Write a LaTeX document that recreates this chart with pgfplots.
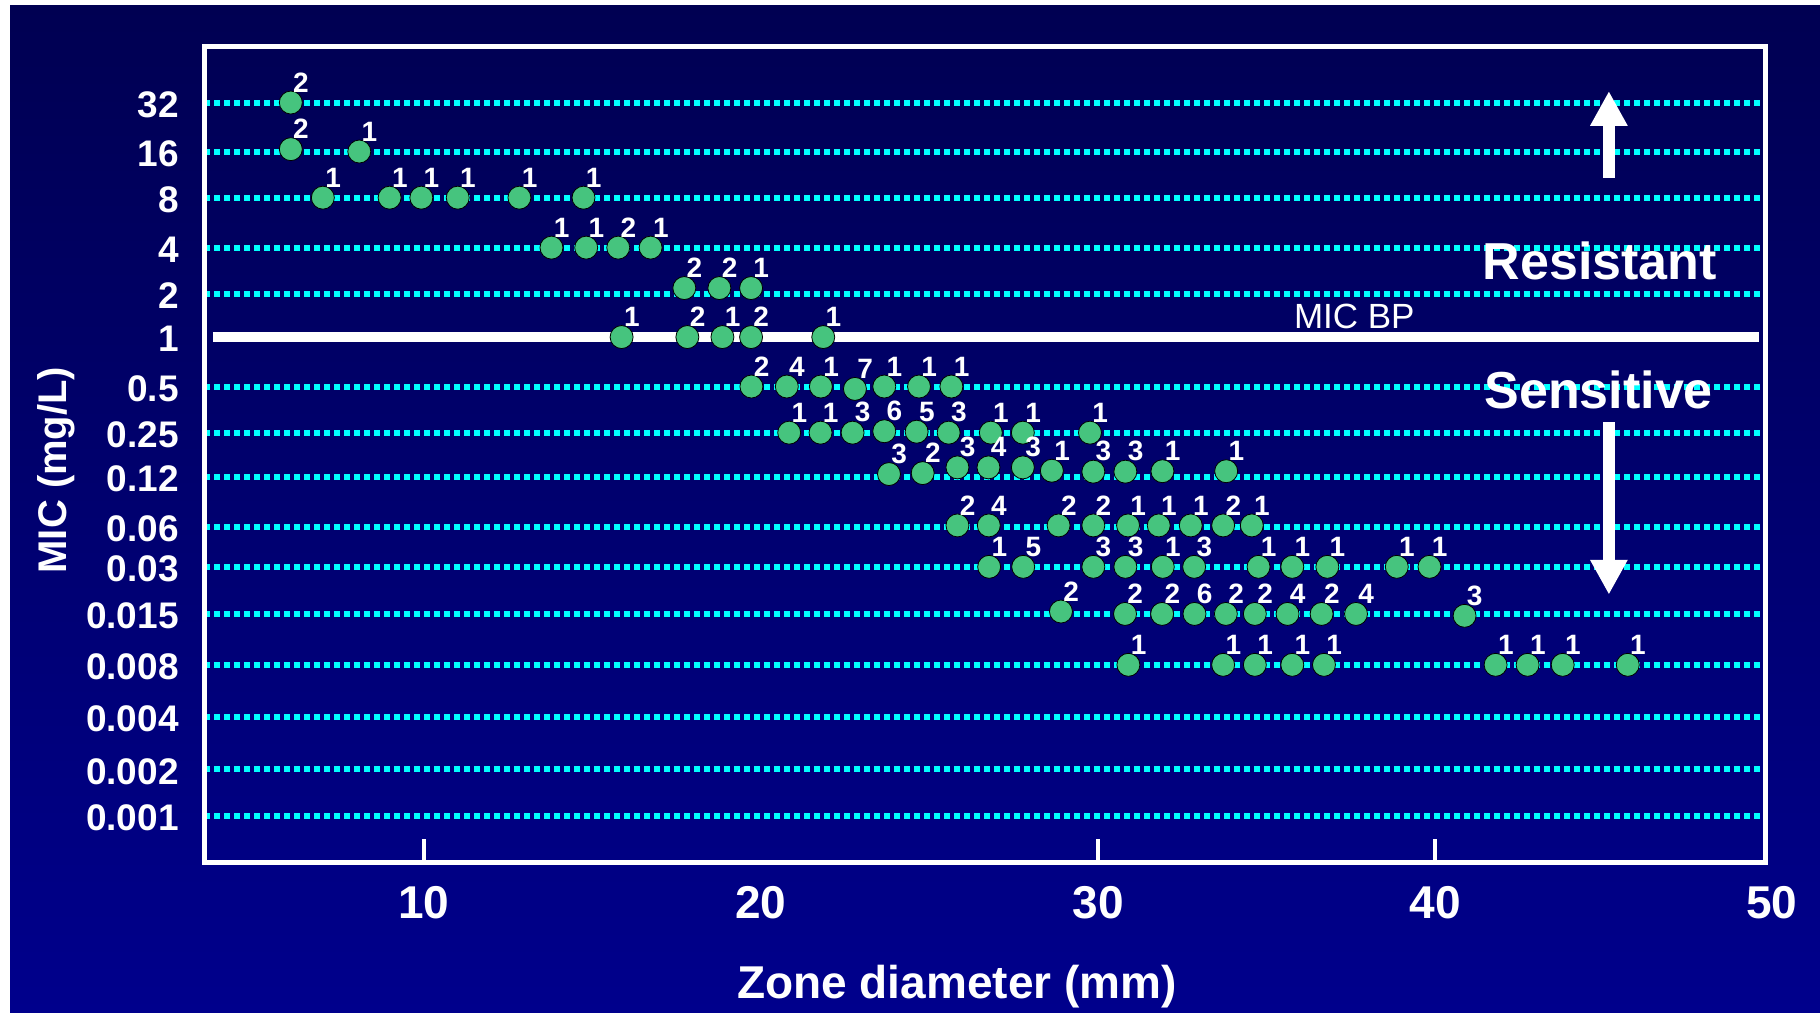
\documentclass[border=0pt]{standalone}
\usepackage{fontspec}
\setmainfont{Liberation Sans}
\usepackage{pgfplots}
\pgfplotsset{compat=1.18}
\usetikzlibrary{arrows.meta}

\definecolor{navytop}{RGB}{0,0,82}
\definecolor{navymid}{RGB}{0,0,112}
\definecolor{navybot}{RGB}{0,0,140}
\definecolor{dotgreen}{RGB}{70,196,126}
\definecolor{gridcyan}{RGB}{0,255,255}

\newcommand\countfont{\fontsize{14pt}{16pt}\selectfont\bfseries}
\newcommand\ytickfont{\fontsize{18.5pt}{20pt}\selectfont\bfseries}
\newcommand\xtickfont{\fontsize{23pt}{26pt}\selectfont\bfseries}
\newcommand\labelfont{\fontsize{23pt}{26pt}\selectfont\bfseries}
\newcommand\ylabfont{\fontsize{20pt}{24pt}\selectfont\bfseries}
\newcommand\bigfont{\fontsize{26pt}{30pt}\selectfont\bfseries}
\newcommand\bpfont{\fontsize{17.5pt}{20pt}\selectfont}

\begin{document}
\begin{tikzpicture}
% slide background
\fill[white] (0pt,0pt) rectangle (910pt,506pt);
\shade[top color=navytop, middle color=navymid, bottom color=navybot] (5pt,0pt) rectangle (910pt,503pt);

\begin{axis}[
  at={(102pt,75pt)}, anchor=south west,
  scale only axis, width=780.5pt, height=407.8pt,
  xmin=3.485, xmax=49.78, ymin=-0.965, ymax=16.18,
  clip=false,
  axis line style={white, line width=2.5pt},
  tick pos=left, tick align=inside,
  major tick length=11.5pt,
  x tick style={white, line width=2pt},
  y tick style={draw=none},
  xtick={10,30,40}, xticklabels={10,30,40},
  extra x ticks={20}, extra x tick labels={20},
  extra x tick style={major tick length=0pt},
  xticklabel style={font=\xtickfont, text=white, anchor=center, inner sep=0pt, yshift=-20.5pt},
  % MIC dilution levels on a rank scale (0.001 at the bottom, 32 at the top)
  ytick={0,0.98,2.08,3.18,4.25,5.24,6.08,7.13,8.06,9.03,10.98,11.95,13.00,13.97,15.00},
  yticklabels={0.001,0.002,0.004,0.008,0.015,0.03,0.06,0.12,0.25,0.5,2,4,8,16,32},
  extra y ticks={10.07}, extra y tick labels={1},
  extra y tick style={grid=none},
  yticklabel style={font=\ytickfont, text=white, anchor=east, inner sep=0pt, xshift=-12.5pt, yshift=-1pt},
  ymajorgrids=true,
  major grid style={gridcyan, line width=3pt, dash pattern=on 3pt off 2pt},
  xlabel={Zone diameter (mm)},
  ylabel={MIC (mg/L)},
  every axis x label/.style={at={(axis description cs:0.4824,-0.1671)}, anchor=base, font=\labelfont, text=white},
  every axis y label/.style={at={(axis description cs:-0.0948,0.4806)}, anchor=center, rotate=90, font=\ylabfont, text=white},
  /pgf/number format/assume math mode=true,
]

% breakpoint
\draw[white, line width=5pt] (axis cs:3.75,10.07) -- (axis cs:49.60,10.07);
\node[anchor=base west, inner sep=0pt, font=\bpfont, text=white] at (axis cs:35.80,10.247) {MIC BP};

% resistant / sensitive arrows
\draw[white, line width=6pt, -{Triangle[width=17.5pt,length=17.35pt]}] (axis cs:45.15,13.42) -- (axis cs:45.15,15.24);
\draw[white, line width=6pt, -{Triangle[width=17.5pt,length=17.35pt]}] (axis cs:45.15,8.284) -- (axis cs:45.15,4.656);
\node[anchor=base west, inner sep=0pt, font=\bigfont, text=white] at (axis cs:41.40,11.278) {Resistant};
\node[anchor=base west, inner sep=0pt, font=\bigfont, text=white] at (axis cs:41.45,8.578) {Sensitive};

\node[font=\xtickfont, text=white, anchor=center, inner sep=0pt, yshift=-20.5pt] at (axis cs:49.98,-0.965) {50};

% isolates: zone diameter, MIC level, number of isolates
\addplot[only marks, mark=*, mark size=5.75pt,
  mark options={draw=none, fill=dotgreen},
  point meta=explicit symbolic,
  nodes near coords,
  nodes near coords style={anchor=south west, inner sep=0pt, xshift=1pt, yshift=5pt, font=\countfont, text=white}]
coordinates {
  % 32
  (6.06,15.00) [2]
  % 16
  (6.06,14.02) [2] (8.09,13.97) [1]
  % 8
  (7.01,13.00) [1] (8.99,13.00) [1] (9.93,13.00) [1] (11.01,13.00) [1] (12.84,13.00) [1] (14.74,13.00) [1]
  % 4
  (13.79,11.95) [1] (14.82,11.95) [1] (15.77,11.95) [2] (16.73,11.95) [1]
  % 2
  (17.73,11.10) [2] (18.77,11.10) [2] (19.71,11.10) [1]
  % 1
  (15.87,10.07) [1] (17.82,10.07) [2] (18.86,10.07) [1] (19.71,10.07) [2] (21.85,10.07) [1]
  % 0.5
  (19.72,9.03) [2] (20.77,9.03) [4] (21.78,9.03) [1] (22.79,8.98) [7] (23.66,9.03) [1] (24.69,9.03) [1] (25.65,9.03) [1]
  % 0.25
  (20.84,8.06) [1] (21.77,8.06) [1] (22.72,8.06) [3] (23.66,8.09) [6] (24.62,8.08) [5] (25.57,8.06) [3] (26.82,8.06) [1] (27.77,8.06) [1] (29.76,8.06) [1]
  % 0.12
  (23.80,7.19) [3] (24.80,7.21) [2] (25.83,7.33) [3] (26.75,7.33) [4] (27.77,7.33) [3] (28.63,7.26) [1] (29.86,7.24) [3] (30.81,7.24) [3] (31.91,7.25) [1] (33.80,7.25) [1]
  % 0.06
  (25.83,6.11) [2] (26.76,6.11) [4] (28.83,6.11) [2] (29.86,6.11) [2] (30.89,6.11) [1] (31.80,6.11) [1] (32.75,6.11) [1] (33.71,6.11) [2] (34.56,6.11) [1]
  % 0.03
  (26.77,5.24) [1] (27.78,5.24) [5] (29.86,5.24) [3] (30.81,5.24) [3] (31.92,5.24) [1] (32.85,5.24) [3] (34.76,5.24) [1] (35.76,5.24) [1] (36.80,5.24) [1] (38.86,5.24) [1] (39.83,5.24) [1]
  % 0.015
  (28.90,4.30) [2] (30.80,4.25) [2] (31.90,4.25) [2] (32.86,4.25) [6] (33.79,4.25) [2] (34.65,4.25) [2] (35.62,4.25) [4] (36.63,4.25) [2] (37.65,4.25) [4] (40.87,4.21) [3]
  % 0.008
  (30.90,3.18) [1] (33.71,3.18) [1] (34.65,3.18) [1] (35.76,3.18) [1] (36.70,3.18) [1] (41.79,3.18) [1] (42.74,3.18) [1] (43.78,3.18) [1] (45.71,3.18) [1]
};
\end{axis}
\pgfresetboundingbox
\useasboundingbox (0pt,0pt) rectangle (910pt,506pt);
\end{tikzpicture}
\end{document}
